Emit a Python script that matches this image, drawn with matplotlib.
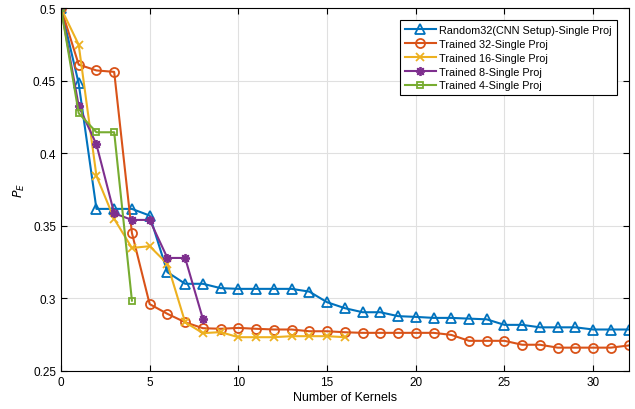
import matplotlib
matplotlib.use('Agg')
import matplotlib.pyplot as plt
from matplotlib.ticker import FormatStrFormatter

plt.rcParams['font.family'] = ['Liberation Sans', 'DejaVu Sans']

random32 = [0.5, 0.448, 0.3616, 0.3616, 0.3616, 0.357, 0.318, 0.310, 0.310, 0.307, 0.3065,
            0.3065, 0.3065, 0.3065, 0.3046, 0.2973, 0.2932, 0.2904, 0.2904, 0.2877, 0.2872,
            0.2865, 0.2865, 0.2860, 0.2855, 0.2817, 0.2817, 0.2800, 0.2800, 0.2800, 0.2785,
            0.2785, 0.2785]
trained32 = [0.5, 0.461, 0.457, 0.456, 0.345, 0.296, 0.2893, 0.2835, 0.2794, 0.2790, 0.2796,
             0.2790, 0.2785, 0.2785, 0.2773, 0.2773, 0.2766, 0.2762, 0.2762, 0.2762, 0.2762,
             0.2762, 0.2748, 0.2707, 0.2707, 0.2707, 0.2680, 0.2680, 0.2660, 0.2660, 0.2660,
             0.2660, 0.2675]
trained16 = [0.5, 0.4747, 0.3843, 0.3547, 0.3347, 0.3359, 0.3237, 0.2835, 0.2760, 0.2767,
             0.2732, 0.2732, 0.2732, 0.2739, 0.2739, 0.2739, 0.2732]
trained8 = [0.5, 0.4325, 0.406, 0.3586, 0.354, 0.354, 0.3278, 0.3278, 0.2858]
trained4 = [0.5, 0.4275, 0.4144, 0.4144, 0.2984]

labels = ['Random32(CNN Setup)-Single Proj', 'Trained 32-Single Proj',
          'Trained 16-Single Proj', 'Trained 8-Single Proj', 'Trained 4-Single Proj']

fig = plt.figure(figsize=(6.35, 4.10), dpi=100)
ax = fig.add_axes([0.096, 0.093, 0.894, 0.885])

series = [random32, trained32, trained16, trained8, trained4]
colors = ['#0072BD', '#D95319', '#EDB120', '#7E2F8E', '#77AC30']
markers = ['^', 'o', 'x', (8, 2, 0), 's']
sizes = [6.5, 6.5, 6, 6.5, 5]
for ys, c, m, s, lab in zip(series, colors, markers, sizes, labels):
    ax.plot(range(len(ys)), ys, color=c, marker=m, markersize=s, markerfacecolor='none',
            markeredgewidth=1.3, linewidth=1.5, label=lab)

ax.set_xlim(0, 32)
ax.set_ylim(0.25, 0.5)
ax.set_xticks(range(0, 31, 5))
ax.set_yticks([0.25, 0.3, 0.35, 0.4, 0.45, 0.5])
ax.yaxis.set_major_formatter(FormatStrFormatter('%g'))
ax.tick_params(direction='in', labelsize=8.5, top=True, right=True, length=4)
ax.grid(True, color='#e0e0e0', linewidth=0.8)
ax.set_axisbelow(True)
for sp in ax.spines.values():
    sp.set_linewidth(0.8)
ax.set_xlabel('Number of Kernels', fontsize=9, labelpad=2)
ax.set_ylabel('$P_E$', fontsize=9)

leg = ax.legend(loc='upper right', fontsize=7.8, fancybox=False, edgecolor='black',
                framealpha=1, borderpad=0.45, labelspacing=0.36, handlelength=2.9,
                handletextpad=0.3, borderaxespad=0, bbox_to_anchor=(0.979, 0.967))
leg.get_frame().set_linewidth(0.8)

fig.savefig('out.png', dpi=100)
